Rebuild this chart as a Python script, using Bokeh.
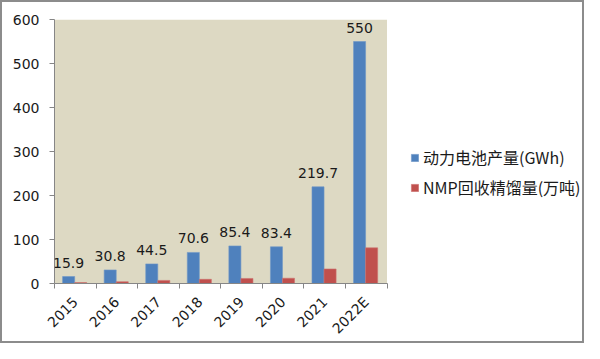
from bokeh.plotting import figure
from bokeh.models import (Range1d, FixedTicker, ColumnDataSource, LabelSet, Legend, LegendItem, BoxAnnotation)
from bokeh.core.properties import value
from bokeh.embed import file_html
from bokeh.resources import INLINE

years = ["2015", "2016", "2017", "2018", "2019", "2020", "2021", "2022E"]
battery = [15.9, 30.8, 44.5, 70.6, 85.4, 83.4, 219.7, 550]
nmp = [2, 4, 7, 9.5, 11.5, 12, 33, 81]
battery_labels = ["15.9", "30.8", "44.5", "70.6", "85.4", "83.4", "219.7", "550"]
series_names = ["动力电池产量(GWh)", "NMP回收精馏量(万吨)"]
y_ticks = [0, 100, 200, 300, 400, 500, 600]

n = len(years)
pos = [i + 0.5 for i in range(n)]
src = ColumnDataSource(dict(
    pos=pos,
    xb=[x - 0.16 for x in pos],
    xr=[x + 0.13 for x in pos],
    battery=battery, nmp=nmp, lab=battery_labels,
))

# frame: 330px for the 8 categories, extended to the right to host the legend
frame_w = 526
x_end = n * frame_w / 330.0

p = figure(width=584, height=343, output_backend="svg", toolbar_location=None,
           x_range=Range1d(0, x_end), y_range=Range1d(0, y_ticks[-1]),
           min_border_left=52, min_border_right=2, min_border_top=17, min_border_bottom=51)
p.styles = {"border": "2px solid #8c8c8c", "box-sizing": "border-box"}
p.background_fill_color = "white"
p.border_fill_color = "white"
p.outline_line_color = None
p.xgrid.visible = False
p.ygrid.visible = False

p.add_layout(BoxAnnotation(left=0, right=n, bottom=0, top=y_ticks[-1],
                           fill_color="#DDD9C3", fill_alpha=1, line_color=None, level="underlay"))

rb = p.vbar(x="xb", top="battery", width=0.29, source=src, fill_color="#4F81BD", line_color="#6f97c8", line_width=0.6)
rr = p.vbar(x="xr", top="nmp", width=0.29, source=src, fill_color="#C0504D", line_color="#cc716e", line_width=0.6)

font = "DejaVu Sans"
labels = LabelSet(x="xb", y="battery", text="lab", source=src, text_align="center",
                  text_baseline="bottom", y_offset=9, text_font=value(font),
                  text_font_size="14px", text_color="#1a1a1a")
p.add_layout(labels)

xa = p.xaxis[0]
xa.bounds = (0, n)
xa.ticker = FixedTicker(ticks=pos, minor_ticks=list(range(n + 1)))
xa.major_label_overrides = {x: y for x, y in zip(pos, years)}
xa.major_label_orientation = 0.785398
xa.major_tick_out = 0
xa.major_tick_in = 0
xa.minor_tick_out = 5
xa.minor_tick_in = 0
xa.minor_tick_line_color = "#868686"
xa.axis_line_color = "#868686"
xa.major_label_text_font = font
xa.major_label_text_font_size = "14px"
xa.major_label_text_color = "#1a1a1a"
xa.major_label_standoff = 11

ya = p.yaxis[0]
ya.ticker = FixedTicker(ticks=y_ticks, minor_ticks=[])
ya.major_tick_out = 5
ya.major_tick_in = 0
ya.major_tick_line_color = "#868686"
ya.axis_line_color = "#868686"
ya.major_label_text_font = font
ya.major_label_text_font_size = "14px"
ya.major_label_text_color = "#1a1a1a"
ya.major_label_standoff = 10

legend = Legend(items=[LegendItem(label=series_names[0], renderers=[rb]),
                       LegendItem(label=series_names[1], renderers=[rr])],
                location=(356, 84), orientation="vertical",
                glyph_width=9, glyph_height=9, label_height=16, spacing=6,
                label_standoff=4, padding=0, margin=0,
                label_text_font="Noto Sans CJK SC", label_text_font_size="16px",
                label_text_color="#1a1a1a",
                background_fill_alpha=0, border_line_color=None)
p.add_layout(legend)

open("out.html", "w").write(file_html(p, INLINE))
